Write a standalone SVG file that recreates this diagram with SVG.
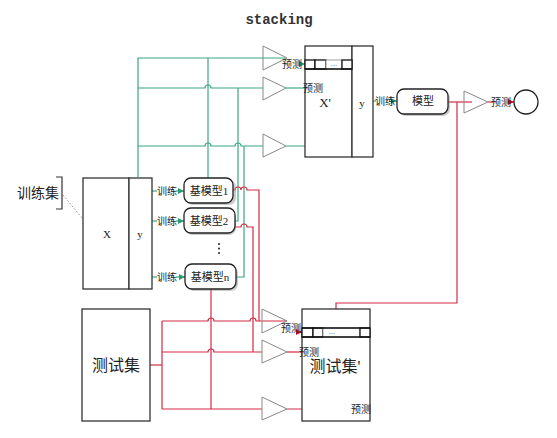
<svg xmlns="http://www.w3.org/2000/svg" width="557" height="438" viewBox="0 0 557 438">
<defs>
<marker id="ag" viewBox="0 0 6 6" refX="6" refY="3" markerWidth="5" markerHeight="5" orient="auto"><path d="M0,0 L6,3 L0,6 z" fill="#2e9a72"/></marker>
<marker id="ar" viewBox="0 0 6 6" refX="6" refY="3" markerWidth="5" markerHeight="5" orient="auto"><path d="M0,0 L6,3 L0,6 z" fill="#c8102e"/></marker>
</defs>
<style>
.box{fill:#fff;stroke:#333;stroke-width:1.3}
.rbox{fill:#fff;stroke:#222;stroke-width:1.3}
.sh{fill:#999;opacity:0.5}
.tri{fill:#fff;stroke:#888;stroke-width:1}
.g{fill:none;stroke:#3aa882;stroke-width:1.2}
.r{fill:none;stroke:#d42a45;stroke-width:1.2}
.t{font-family:"Liberation Serif","Noto Sans CJK SC",serif;fill:#222;text-anchor:middle;dominant-baseline:central}
.s{font-size:10px}
.m{font-size:11px}
.cell{fill:#fff;stroke:#111;stroke-width:1.3}
.dots{font-family:"Liberation Sans",sans-serif;font-size:8px;fill:#555;text-anchor:middle}
</style>
<rect width="557" height="438" fill="#fff"/>
<text x="279" y="20" class="t" style="font-family:'Liberation Mono',monospace;font-size:14px;font-weight:bold;fill:#333">stacking</text>

<g id="connectors">
<path class="g" d="M138,177 V58 H285"/>
<path class="g" d="M138,88 H205 a3,3 0 0 1 6,0 H263"/>
<path class="g" d="M138,146 H205 a3,3 0 0 1 6,0 H235 a3,3 0 0 1 6,0 H263"/>
<path class="g" d="M208,178 V58"/>
<path class="g" d="M234,221 H238 V88"/>
<path class="g" d="M236,277 H244 V146"/>
<path class="g" d="M299,64 H305" marker-end="url(#ag)"/>
<path class="g" d="M286,88 H304"/>
<path class="g" d="M320,88 H321 V70" marker-end="url(#ag)"/>
<path class="g" d="M286,146 H347 V70" marker-end="url(#ag)"/>
<path class="g" d="M152,191 H157"/><path class="g" d="M176,191 H184" marker-end="url(#ag)"/>
<path class="g" d="M152,221 H157"/><path class="g" d="M176,221 H184" marker-end="url(#ag)"/>
<path class="g" d="M152,277 H157"/><path class="g" d="M176,277 H185" marker-end="url(#ag)"/>
<path class="g" d="M373,101 H376"/><path class="g" d="M393,101 H397" marker-end="url(#ag)"/>
<path class="r" d="M150,365 H162"/>
<path class="r" d="M162,321 V409"/>
<path class="r" d="M162,321 H208 a3,3 0 0 1 6,0 H250 a3,3 0 0 1 6,0 H287"/>
<path class="r" d="M162,352 H208 a3,3 0 0 1 6,0 H263"/>
<path class="r" d="M162,409 H263"/>
<path class="r" d="M233,190 H235 a3,3 0 0 1 6,0 a3,3 0 0 1 6,0 H259 V321"/>
<path class="r" d="M235,227 H241 a3,3 0 0 1 6,0 H253 V352"/>
<path class="r" d="M211,289 V409"/>
<path class="r" d="M297,332 H302" marker-end="url(#ar)"/>
<path class="r" d="M287,352 H301"/>
<path class="r" d="M318,346 V337" marker-end="url(#ar)"/>
<path class="r" d="M287,409 H353"/>
<path class="r" d="M365,403 V337" marker-end="url(#ar)"/>
<path class="r" d="M448,102 H472"/>
<path class="r" d="M457,102 V303 H336 V309"/>
<path class="r" d="M488,102 H493"/><path class="r" d="M509,102 H514" marker-end="url(#ar)"/>
<path d="M63,195 L82,218" stroke="#999" stroke-width="1" stroke-dasharray="1.5,2" fill="none"/>
</g>

<g id="triangles">
<path class="tri" d="M263,46 L287,58 L263,70 z" style="fill:none"/>
<path class="tri" d="M263,77 L286,88 L263,100 z"/>
<path class="tri" d="M263,134 L286,146 L263,157 z"/>
<path class="tri" d="M262,309 L287,321 L262,333 z" style="fill:none"/>
<path class="tri" d="M262,340 L287,352 L262,363 z"/>
<path class="tri" d="M262,397 L287,409 L262,420 z"/>
<path class="tri" d="M464,91 L488,102 L464,113 z" style="fill:none"/>
</g>

<g id="train-set">
<text x="38" y="193" class="t" style="font-size:14px">训练集</text>
<path d="M56,177 H62 V209 H56" fill="none" stroke="#333" stroke-width="1.2"/>
<rect class="box" x="83" y="178" width="46" height="111"/>
<rect class="box" x="129" y="178" width="23" height="111"/>
<text x="107" y="234" class="t m">X</text>
<text x="140" y="234" class="t m">y</text>
<text x="167" y="191" class="t s">训练</text>
<text x="167" y="221" class="t s">训练</text>
<text x="167" y="277" class="t s">训练</text>
</g>

<g id="base1"><rect class="sh" x="186" y="180" width="50" height="25" rx="7"/><rect class="rbox" x="184" y="178" width="49" height="25" rx="7"/><text x="209" y="191" class="t m">基模型1</text></g>
<g id="base2"><rect class="sh" x="186" y="210" width="50" height="25" rx="7"/><rect class="rbox" x="184" y="208" width="51" height="25" rx="7"/><text x="209" y="221" class="t m">基模型2</text></g>
<g id="dots"><circle cx="219" cy="244" r="1" fill="#222"/><circle cx="219" cy="248.5" r="1" fill="#222"/><circle cx="219" cy="253" r="1" fill="#222"/></g>
<g id="basen"><rect class="sh" x="187" y="266" width="51" height="25" rx="7"/><rect class="rbox" x="185" y="264" width="51" height="25" rx="7"/><text x="210" y="277" class="t m">基模型n</text></g>

<g id="test-set">
<rect class="box" x="82" y="309" width="68" height="112"/>
<text x="116" y="365" class="t" style="font-size:16px">测试集</text>
</g>

<g id="xprime">
<rect class="box" x="305" y="46" width="47" height="111"/>
<rect class="box" x="352" y="46" width="21" height="111"/>
<rect class="cell" x="305" y="60" width="10" height="9"/>
<rect class="cell" x="315" y="60" width="11" height="9"/>
<rect x="326" y="60" width="16" height="9" fill="#fff" stroke="#888" stroke-width="0.8"/>
<rect class="cell" x="342" y="60" width="10" height="9"/>
<line x1="305" y1="69" x2="352" y2="69" stroke="#111" stroke-width="1.3"/>
<text x="334" y="66" class="dots">...</text>
<text x="325" y="102" class="t" style="font-size:13px">X'</text>
<text x="362" y="103" class="t m">y</text>
<text x="292" y="64" class="t s">预测</text>
<text x="313" y="88" class="t s">预测</text>
<text x="385" y="101" class="t s">训练</text>
</g>

<g id="model"><rect class="sh" x="399" y="91" width="51" height="25" rx="7"/><rect class="rbox" x="397" y="89" width="51" height="25" rx="7"/><text x="423" y="101" class="t m">模型</text></g>
<g id="result"><text x="501" y="102" class="t s">预测</text><circle cx="526" cy="102" r="12" fill="#fff" stroke="#222" stroke-width="1.3"/></g>

<g id="testprime">
<rect class="box" x="302" y="309" width="68" height="112"/>
<rect class="cell" x="302" y="328" width="11" height="9"/>
<rect class="cell" x="313" y="328" width="10" height="9"/>
<rect x="323" y="328" width="37" height="9" fill="#fff" stroke="#888" stroke-width="0.8"/>
<rect class="cell" x="360" y="328" width="10" height="9"/>
<line x1="302" y1="337" x2="370" y2="337" stroke="#111" stroke-width="1.3"/>
<line x1="302" y1="328" x2="370" y2="328" stroke="#111" stroke-width="1.3"/>
<text x="332" y="334" class="dots">...</text>
<text x="335" y="366" class="t" style="font-size:16px">测试集'</text>
<text x="291" y="328" class="t s">预测</text>
<text x="309" y="352" class="t s">预测</text>
<text x="361" y="409" class="t s">预测</text>
</g>
</svg>
